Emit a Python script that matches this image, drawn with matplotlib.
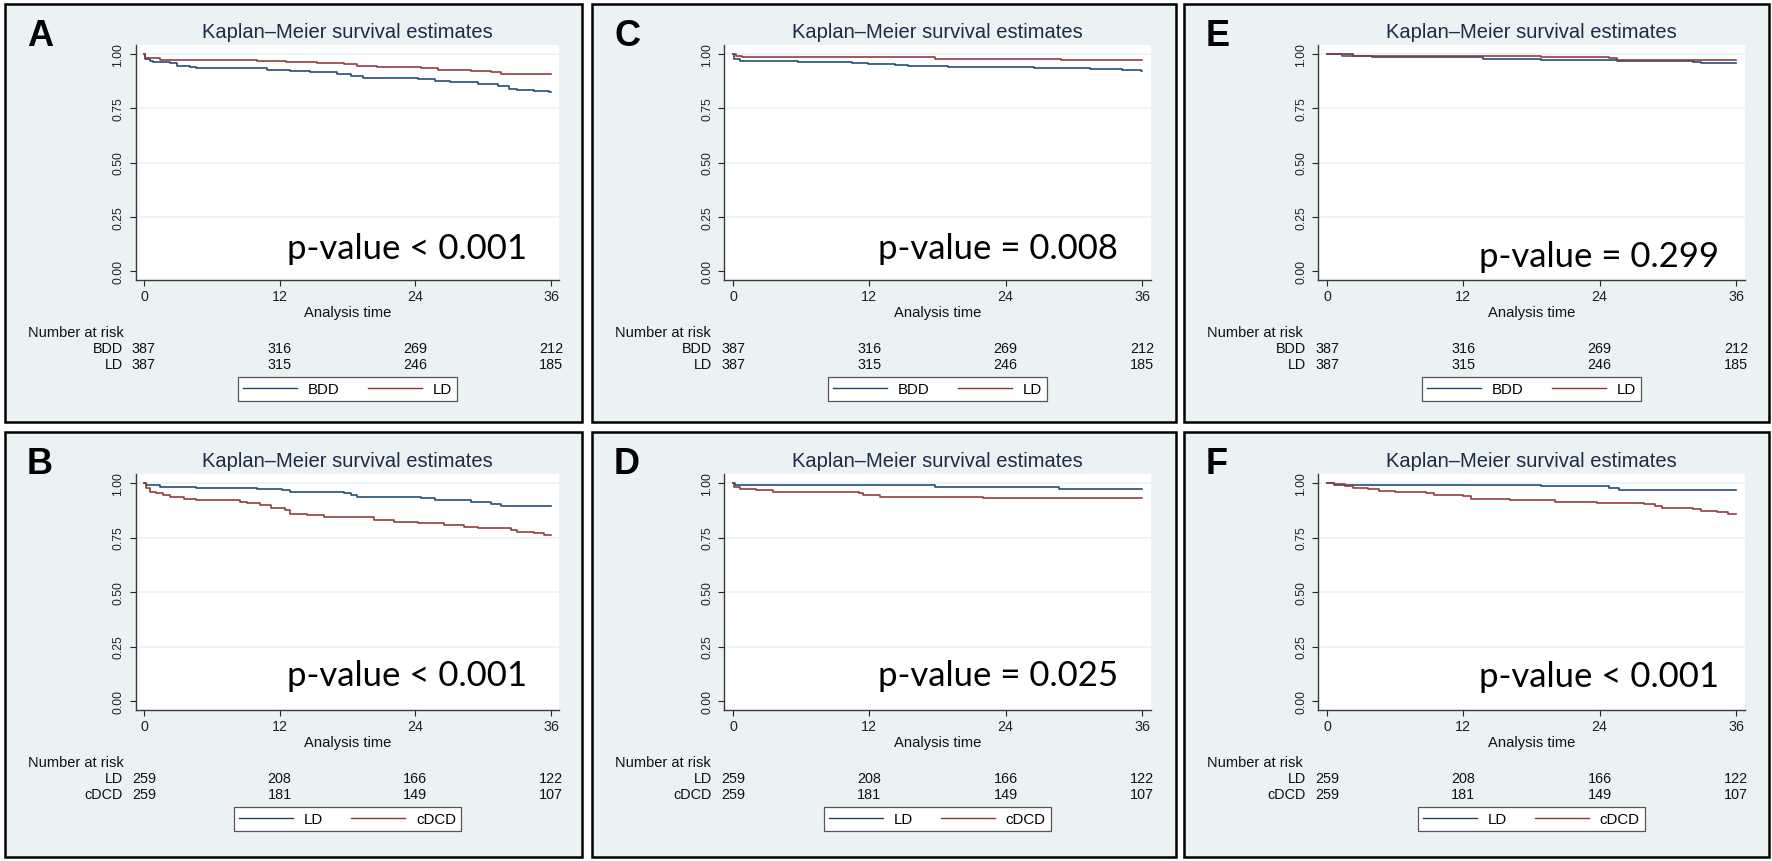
import matplotlib.pyplot as plt
import numpy as np
from matplotlib.patches import Rectangle
from matplotlib.lines import Line2D
from matplotlib.transforms import blended_transform_factory

plt.rcParams['font.family'] = ['Liberation Sans', 'DejaVu Sans']

# ---------------- data ----------------
risk_times = [0, 12, 24, 36]
followup_end = 36

# top row: BDD vs LD (A, C, E)
a_bdd_t = [0, 0.1, 0.5, 0.8, 2.3, 2.9, 4.1, 4.6, 10.9, 12.9, 14.7, 17.1, 18.3, 19.4,
           24.2, 25.7, 27.1, 29.5, 31.3, 32.3, 33.0, 34.5, 35.8]
a_bdd_s = [1.0, 0.975, 0.969, 0.961, 0.957, 0.946, 0.941, 0.934, 0.926, 0.920, 0.915, 0.909,
           0.900, 0.889, 0.884, 0.877, 0.869, 0.861, 0.853, 0.838, 0.833, 0.830, 0.826]
a_ld_t = [0, 0.1, 1.4, 4.6, 10.0, 12.6, 15.3, 17.7, 18.8, 20.6, 24.5, 26.0, 28.9, 30.7, 31.6]
a_ld_s = [1.0, 0.980, 0.974, 0.972, 0.969, 0.961, 0.957, 0.954, 0.943, 0.938, 0.934, 0.927,
          0.923, 0.915, 0.907]

c_bdd_t = [0, 0.1, 0.6, 2.9, 5.7, 10.5, 11.9, 14.3, 15.4, 18.9, 20.9, 26.5, 31.4, 34.2, 35.9]
c_bdd_s = [1.0, 0.977, 0.969, 0.966, 0.961, 0.958, 0.954, 0.949, 0.944, 0.941, 0.938, 0.935,
           0.931, 0.927, 0.923]
c_ld_t = [0, 0.3, 0.8, 17.8, 28.9]
c_ld_s = [1.0, 0.989, 0.985, 0.977, 0.972]

e_bdd_t = [0, 2.3, 4.0, 13.7, 18.8, 25.5, 28.5, 32.2, 32.9]
e_bdd_s = [1.0, 0.992, 0.985, 0.977, 0.972, 0.969, 0.966, 0.961, 0.957]
e_ld_t = [0, 1.3, 18.8, 24.8, 25.5, 32.6]
e_ld_s = [1.0, 0.992, 0.985, 0.980, 0.974, 0.972]

top_groups = ['BDD', 'LD']
top_risk_bdd = [387, 316, 269, 212]
top_risk_ld = [387, 315, 246, 185]

# bottom row: LD vs cDCD (B, D, F)
b_ld_t = [0, 0.2, 1.4, 4.6, 10.0, 12.2, 12.9, 15.3, 17.7, 18.3, 18.8, 24.5, 25.7, 28.9, 30.7, 31.6]
b_ld_s = [1.0, 0.989, 0.981, 0.977, 0.972, 0.966, 0.961, 0.957, 0.954, 0.946, 0.935, 0.931,
          0.923, 0.915, 0.903, 0.895]
b_dcd_t = [0, 0.15, 0.5, 1.1, 1.7, 2.3, 3.5, 4.6, 8.5, 9.1, 10.3, 11.2, 12.5, 12.9, 14.4, 15.9,
           20.3, 22.1, 24.2, 26.5, 28.3, 29.5, 32.5, 33.0, 34.5, 35.4]
b_dcd_s = [1.0, 0.977, 0.961, 0.954, 0.946, 0.934, 0.927, 0.920, 0.915, 0.907, 0.897, 0.887,
           0.877, 0.858, 0.853, 0.846, 0.830, 0.823, 0.815, 0.807, 0.799, 0.792, 0.784, 0.776,
           0.769, 0.761]

d_ld_t = [0, 0.15, 17.8, 28.7]
d_ld_s = [1.0, 0.992, 0.981, 0.974]
d_dcd_t = [0, 0.1, 0.6, 2.05, 3.5, 11.1, 11.4, 12.9, 22.0]
d_dcd_s = [1.0, 0.981, 0.974, 0.969, 0.961, 0.954, 0.946, 0.938, 0.929]

f_ld_t = [0, 0.6, 18.8, 24.8, 25.7]
f_ld_s = [1.0, 0.991, 0.985, 0.977, 0.970]
f_dcd_t = [0, 0.6, 1.6, 2.3, 3.6, 4.6, 6.0, 8.7, 9.4, 12.0, 12.7, 16.1, 20.1, 23.8, 27.9, 28.9,
           29.5, 32.2, 32.9, 34.3, 35.3]
f_dcd_s = [1.0, 0.995, 0.988, 0.977, 0.973, 0.965, 0.960, 0.954, 0.947, 0.942, 0.927, 0.922,
           0.915, 0.909, 0.904, 0.896, 0.886, 0.881, 0.873, 0.866, 0.856]

bottom_groups = ['LD', 'cDCD']
bottom_risk_ld = [259, 208, 166, 122]
bottom_risk_dcd = [259, 181, 149, 107]

p_texts = {'A': 'p-value < 0.001', 'C': 'p-value = 0.008', 'E': 'p-value = 0.299',
           'B': 'p-value < 0.001', 'D': 'p-value = 0.025', 'F': 'p-value < 0.001'}

# ---------------- layout (pixels) ----------------
W, H = 1772, 862
col_borders = [(5, 582), (592, 1176), (1184, 1769)]
col_x = [(144, 551), (733, 1142), (1327, 1736)]       # pixel of t=0 and t=36
row_borders = [(5, 423), (433, 858)]
row_y = [(55, 272), (484, 702)]                        # pixel of S=1 and S=0
XLIM = (-0.75, 36.75)
YLIM = (-0.04, 1.04)

BG = '#eaf2f3'
NAVY = '#1a476f'
MAROON = '#90353b'
TITLE_C = '#1c2b4a'

panels = [
    dict(label='A', col=0, row=0, curves=[(a_bdd_t, a_bdd_s), (a_ld_t, a_ld_s)],
         groups=top_groups, risk=[top_risk_bdd, top_risk_ld], p_x=33.9, p_y=0.058),
    dict(label='C', col=1, row=0, curves=[(c_bdd_t, c_bdd_s), (c_ld_t, c_ld_s)],
         groups=top_groups, risk=[top_risk_bdd, top_risk_ld], p_x=33.9, p_y=0.058),
    dict(label='E', col=2, row=0, curves=[(e_bdd_t, e_bdd_s), (e_ld_t, e_ld_s)],
         groups=top_groups, risk=[top_risk_bdd, top_risk_ld], p_x=34.5, p_y=0.023),
    dict(label='B', col=0, row=1, curves=[(b_ld_t, b_ld_s), (b_dcd_t, b_dcd_s)],
         groups=bottom_groups, risk=[bottom_risk_ld, bottom_risk_dcd], p_x=33.9, p_y=0.072),
    dict(label='D', col=1, row=1, curves=[(d_ld_t, d_ld_s), (d_dcd_t, d_dcd_s)],
         groups=bottom_groups, risk=[bottom_risk_ld, bottom_risk_dcd], p_x=33.9, p_y=0.072),
    dict(label='F', col=2, row=1, curves=[(f_ld_t, f_ld_s), (f_dcd_t, f_dcd_s)],
         groups=bottom_groups, risk=[bottom_risk_ld, bottom_risk_dcd], p_x=34.5, p_y=0.069),
]

fig = plt.figure(figsize=(W / 100, H / 100), dpi=100, facecolor='white')


def fy(py):
    return 1 - py / H


for p in panels:
    bl, br = col_borders[p['col']]
    bt, bb = row_borders[p['row']]
    fig.add_artist(Rectangle((bl / W, fy(bb)), (br - bl) / W, (bb - bt) / H,
                             transform=fig.transFigure, facecolor=BG, edgecolor='black',
                             lw=1.8, zorder=-1))

    x0, x36 = col_x[p['col']]
    y1, y0 = row_y[p['row']]
    ppm = (x36 - x0) / 36.0
    ppu = (y0 - y1)
    ax_l = x0 + XLIM[0] * ppm
    ax_r = x0 + XLIM[1] * ppm
    ax_t = y1 - (YLIM[1] - 1) * ppu
    ax_b = y0 - YLIM[0] * ppu
    cx = (ax_l + ax_r) / 2

    ax = fig.add_axes([ax_l / W, fy(ax_b), (ax_r - ax_l) / W, (ax_b - ax_t) / H])
    ax.set_facecolor('white')
    ax.set_xlim(*XLIM)
    ax.set_ylim(*YLIM)

    for yg in [0.25, 0.5, 0.75, 1.0]:
        ax.axhline(yg, color=BG, lw=1.2, zorder=1)

    for (t, s), col in zip(p['curves'], [NAVY, MAROON]):
        ax.step(np.append(t, followup_end), np.append(s, s[-1]), where='post',
                color=col, lw=1.15, zorder=3)

    for side in ['top', 'right']:
        ax.spines[side].set_visible(False)
    for side in ['left', 'bottom']:
        ax.spines[side].set_color('#3a3a3a')
        ax.spines[side].set_linewidth(1.0)

    ax.set_xticks(risk_times)
    ax.set_yticks([0, 0.25, 0.5, 0.75, 1.0])
    ax.set_yticklabels(['%.2f' % v for v in [0, 0.25, 0.5, 0.75, 1.0]])
    ax.tick_params(axis='x', direction='out', length=4, width=0.8, pad=3,
                   labelsize=10.3, colors='#222222')
    ax.tick_params(axis='y', direction='out', length=4, width=0.8, pad=4,
                   labelsize=8.7, colors='#222222')
    for lab in ax.get_yticklabels():
        lab.set_rotation(90)
        lab.set_va('center')

    ax.text(p['p_x'], p['p_y'], p_texts[p['label']], ha='right', va='baseline',
            fontsize=25, family=['Lato', 'DejaVu Sans'], color='black', zorder=4)

    # title, panel letter and axis title
    fig.text(cx / W, fy(ax_t - 14), 'Kaplan–Meier survival estimates', ha='center',
             va='center', fontsize=14.5, color=TITLE_C)
    fig.text((bl + 22) / W, fy(bt + 32), p['label'], ha='left', va='center',
             fontsize=26, fontweight='bold', color='black')
    fig.text(cx / W, fy(ax_b + 32), 'Analysis time', ha='center', va='center',
             fontsize=10.6, color='#111111')

    # number at risk table
    fig.text((bl + 23) / W, fy(ax_b + 52), 'Number at risk', ha='left', va='center',
             fontsize=10.5, color='#111111')
    tr = blended_transform_factory(ax.transData, fig.transFigure)
    for i, (g, vals) in enumerate(zip(p['groups'], p['risk'])):
        yy = fy(ax_b + 68 + 16 * i)
        fig.text((x0 - 21) / W, yy, g, ha='right', va='center', fontsize=10.4,
                 color='#111111')
        for tt, v in zip(risk_times, vals):
            ax.text(tt, yy, str(v), transform=tr, ha='center', va='center',
                    fontsize=10.4, color='#111111')

    handles = [Line2D([], [], color=NAVY, lw=1.0), Line2D([], [], color=MAROON, lw=1.0)]
    leg = ax.legend(handles, p['groups'], loc='upper center',
                    bbox_to_anchor=(cx / W, fy(ax_b + 97)), bbox_transform=fig.transFigure,
                    ncol=2, frameon=True, fancybox=False, edgecolor='#555555', framealpha=1,
                    fontsize=10.8, handlelength=3.6, handletextpad=0.7, columnspacing=1.9,
                    borderaxespad=0, borderpad=0.35)
    leg.get_frame().set_linewidth(0.9)

fig.savefig('out.png', dpi=100, facecolor='white')
